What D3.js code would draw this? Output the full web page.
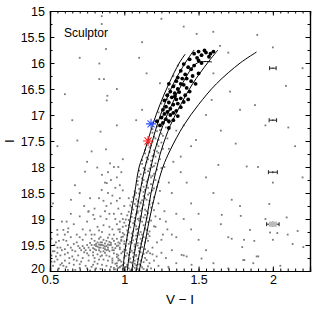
<!DOCTYPE html>
<html>
<head>
<meta charset="utf-8">
<script src="https://cdn.jsdelivr.net/npm/d3@7"></script>
<style>
  body { margin: 0; background: #fff; }
  svg { display: block; font-family: "Liberation Sans", Arial, sans-serif; }
</style>
</head>
<body>
<svg id="chart" width="327" height="312"></svg>
<script>
// ---- data (V-I, I) ----
const xTicks = [0.5, 1, 1.5, 2];
const yTicks = [15, 15.5, 16, 16.5, 17, 17.5, 18, 18.5, 19, 19.5, 20];

// sparse foreground / field stars
const fieldStars = [
  [0.848,15.10],[0.848,15.25],[0.877,15.73],[0.832,16.01],[0.832,16.31],[0.863,16.31],
  [0.886,16.63],[0.882,16.72],[0.684,17.49],[0.84,17.32],[0.877,17.66],[0.904,17.93],
  [0.818,18.01],[0.736,18.09],[0.668,18.35],[0.641,18.63],[0.848,18.44],[0.882,18.31],
  [0.758,18.86],[0.791,18.92],[0.612,19.05],[0.549,19.21],[0.59,19.21],[0.623,19.18],
  [1.723,18.63],[1.779,18.75],[1.976,18.71],[1.656,18.92],[1.784,18.94],[2.093,18.97],
  [1.846,19.21],[1.981,19.26],[2.03,19.27],[2.167,19.23],[1.723,19.38],[1.806,19.40],
  [1.875,19.42],[1.794,19.54],[2.133,19.48],[2.205,19.54],[1.902,19.72],[1.808,19.79],
  [1.868,19.85],[1.173,19.66],[1.218,19.72],[1.386,19.69],[1.42,19.72],[1.52,19.76],
  [1.453,19.88],[1.297,19.92],[1.801,19.79],[1.891,19.72],[1.895,15.46],[2.088,16.44],
  [1.88,16.81],[2.104,17.24],[1.599,15.4],[1.487,15.44],[1.644,15.67],[1.24,16.39],
  [1.712,16.55],[1.588,16.71],[1.779,16.9],[1.483,17.48],[1.633,17.96],[1.824,17.99],
  [1.12,15.6],[1.25,15.15],[1.55,18.2],[1.45,18.7],[1.5,19.4],[1.65,19.1],[1.4,19.7],
  [1.6,19.85],[1.35,18.9],[1.42,18.3],[1.38,17.8],[0.55,17.6],[0.52,18.7],[0.75,17.9],
  [0.95,17.2],[1.15,16.2],[1.12,16.9],[1.08,17.1],[1.4,17.2],[2.0,19.4],[1.7,19.35],
  [1.55,17.0],[1.65,17.3],[1.75,17.55],[1.95,17.2],[2.15,17.6],[2.2,18.2],[2.0,18.3],
  [1.9,18.0],[1.6,18.5],[1.5,18.9],[1.45,19.2],[1.55,19.6],[1.7,19.95],[2.05,19.9],
  [2.1,19.3],[1.95,19.0],[1.35,19.35],[1.4,19.0],[1.32,18.5],[1.38,18.1],[1.45,17.6],
  [1.3,17.65],[1.35,17.3],[1.6,16.2],[1.7,15.8],[2.0,15.7],[2.2,16.1],[1.4,15.3],
  [1.1,15.9],[0.95,16.5],[0.7,15.9],[0.6,16.6],[0.65,17.1],[0.78,17.7],[1.25,19.4],
  [1.28,19.05],[1.32,19.3],[1.23,18.7],[1.3,18.3],[1.27,18.0],[1.33,17.9]
];

// red giant branch
const rgbStars = [
  [0.93,19.97],[0.97,19.93],[1.0,19.98],[1.03,19.95],[1.06,19.91],[1.09,19.96],[1.12,19.93],[1.15,19.99],
  [0.95,19.9],[1.01,19.92],[1.04,19.99],[1.08,19.98],[1.18,19.95],[0.99,19.96],[1.11,19.9],
  [0.94,19.86],[0.98,19.82],[1.02,19.88],[1.05,19.84],[1.07,19.8],[1.1,19.87],[1.13,19.83],[0.96,19.76],
  [1.0,19.74],[1.03,19.79],[1.06,19.73],[1.09,19.77],[1.14,19.75],[1.17,19.85],[0.92,19.8],[1.01,19.71],
  [1.04,19.83],[1.08,19.89],[0.99,19.88],[1.12,19.72],
  [0.95,19.68],[0.99,19.63],[1.02,19.66],[1.05,19.61],[1.08,19.69],[1.11,19.64],[1.14,19.58],[0.97,19.55],
  [1.01,19.52],[1.04,19.57],[1.07,19.53],[1.1,19.56],[1.13,19.67],[1.16,19.62],[1.03,19.69],[1.06,19.65],
  [0.93,19.6],[1.19,19.55],[1.09,19.51],[1.0,19.59],
  [0.97,19.47],[1.0,19.43],[1.03,19.48],[1.06,19.41],[1.09,19.46],[1.12,19.42],[1.15,19.37],[0.99,19.34],
  [1.02,19.31],[1.05,19.36],[1.08,19.32],[1.11,19.38],[1.14,19.45],[1.17,19.33],[1.04,19.44],[1.07,19.49],
  [0.95,19.38],[1.1,19.3],
  [0.99,19.27],[1.02,19.22],[1.05,19.28],[1.08,19.2],[1.11,19.25],[1.14,19.18],[1.17,19.24],[1.01,19.13],
  [1.04,19.16],[1.07,19.11],[1.1,19.15],[1.13,19.12],[1.16,19.29],[1.06,19.24],[1.09,19.19],[0.97,19.2],[1.2,19.14],
  [1.0,19.07],[1.03,19.02],[1.06,19.08],[1.09,19.0],[1.12,19.05],[1.15,18.98],[1.18,19.03],[1.02,18.93],
  [1.05,18.96],[1.08,18.91],[1.11,18.95],[1.14,18.92],[1.07,19.04],[1.1,18.99],[1.21,18.95],
  [1.03,18.86],[1.06,18.82],[1.09,18.88],[1.12,18.8],[1.15,18.85],[1.18,18.78],[1.04,18.74],[1.07,18.71],
  [1.1,18.76],[1.13,18.73],[1.16,18.89],[1.2,18.83],[1.11,18.84],
  [1.05,18.67],[1.08,18.62],[1.11,18.68],[1.14,18.6],[1.17,18.65],[1.2,18.58],[1.07,18.54],[1.1,18.51],
  [1.13,18.56],[1.16,18.53],[1.19,18.69],[1.12,18.64],[1.03,18.6],
  [1.07,18.47],[1.1,18.42],[1.13,18.48],[1.16,18.4],[1.19,18.45],[1.22,18.38],[1.09,18.34],[1.12,18.31],
  [1.15,18.36],[1.18,18.33],[1.14,18.44],[1.24,18.46],
  [1.09,18.27],[1.12,18.22],[1.15,18.28],[1.18,18.2],[1.21,18.25],[1.11,18.14],[1.14,18.11],[1.17,18.16],
  [1.2,18.13],[1.23,18.29],[1.16,18.24],
  [1.1,18.07],[1.13,18.02],[1.16,18.08],[1.19,18.0],[1.22,18.05],[1.12,17.94],[1.15,17.91],[1.18,17.96],
  [1.21,17.93],[1.25,18.02],
  [1.12,17.87],[1.15,17.82],[1.18,17.88],[1.21,17.8],[1.24,17.85],[1.14,17.74],[1.17,17.71],[1.2,17.76],[1.23,17.73],
  [1.14,17.67],[1.17,17.62],[1.2,17.68],[1.23,17.6],[1.26,17.65],[1.16,17.54],[1.19,17.51],[1.22,17.56],[1.25,17.53],
  [1.17,17.47],[1.2,17.42],[1.23,17.48],[1.26,17.4],[1.19,17.34],[1.22,17.31],[1.25,17.36],[1.29,17.45],
  [1.19,17.27],[1.22,17.22],[1.25,17.18],[1.28,17.24],[1.21,17.12],[1.24,17.05],[1.27,17.09],[1.3,17.15],
  [1.23,16.95],[1.27,16.88],[1.3,16.92],[1.25,16.78],[1.29,16.7],[1.33,16.82],[1.28,16.62],
  [1.3,16.5],[1.34,16.42],[1.33,16.25],[1.38,16.15],[1.36,16.05],
  [1.2,19.8],[1.23,19.9],[1.25,19.65],[1.22,19.45],[1.28,19.75],[1.26,19.3],[1.3,19.95],[1.21,19.15],
  [1.24,19.0],[1.27,18.85],[1.32,19.6],[1.35,19.85],[1.19,19.68],[1.29,19.2],
  [0.96,19.94],[0.98,19.9],[1.02,19.91],[1.05,19.97],[1.07,19.94],[1.1,19.99],[1.13,19.96],[1.16,19.91],
  [0.97,19.79],[1.0,19.85],[1.04,19.76],[1.07,19.86],[1.11,19.8],[1.15,19.79],[0.95,19.73],[1.08,19.71],
  [0.98,19.66],[1.01,19.6],[1.04,19.64],[1.07,19.59],[1.1,19.62],[1.12,19.54],[1.15,19.65],[0.96,19.51],
  [1.0,19.48],[1.02,19.4],[1.05,19.46],[1.08,19.39],[1.11,19.47],[1.13,19.35],[1.16,19.42],[0.98,19.42],
  [1.0,19.3],[1.03,19.26],[1.06,19.32],[1.09,19.27],[1.12,19.3],[1.15,19.21],[1.03,19.12],[1.08,19.14],
  [1.01,19.01],[1.04,19.05],[1.07,18.98],[1.1,19.03],[1.13,18.97],[1.16,19.06],[1.05,18.89],[1.09,18.85],
  [1.05,18.78],[1.08,18.75],[1.11,18.7],[1.14,18.82],[1.17,18.72],[1.06,18.58],[1.09,18.66],[1.15,18.63],
  [1.08,18.5],[1.11,18.45],[1.17,18.5],[1.13,18.38],[1.2,18.41],[1.1,18.19],[1.13,18.25],[1.19,18.17],
  [1.14,18.05],[1.17,18.03],[1.2,17.98],[1.16,17.85],[1.19,17.79],[1.22,17.7],[1.18,17.58],[1.21,17.45],
  [1.24,17.29],[1.26,17.02],[1.29,16.85]
];

// horizontal branch, red clump and faint blue stars
const hbStars = [
  [0.76,19.55],[0.78,19.5],[0.8,19.58],[0.81,19.48],[0.82,19.53],[0.83,19.6],[0.84,19.45],[0.85,19.5],
  [0.86,19.56],[0.87,19.47],[0.88,19.52],[0.89,19.59],[0.9,19.44],[0.91,19.5],[0.92,19.55],[0.93,19.42],
  [0.94,19.48],[0.8,19.42],[0.83,19.38],[0.86,19.4],[0.89,19.36],[0.84,19.63],[0.87,19.65],[0.9,19.62],
  [0.79,19.64],[0.77,19.46],[0.74,19.6],[0.82,19.68],[0.85,19.7],[0.95,19.52],[0.96,19.45],[0.92,19.38],
  [0.88,19.42],[0.81,19.52],[0.86,19.51],[0.84,19.55],[0.87,19.58],[0.91,19.46],[0.83,19.49],[0.89,19.49],
  [0.72,19.52],[0.75,19.66],[0.97,19.58],[0.93,19.66],[0.78,19.38],[0.98,19.4],
  [0.51,19.7],[0.53,19.62],[0.55,19.78],[0.57,19.55],[0.58,19.85],[0.6,19.68],[0.62,19.5],[0.63,19.75],
  [0.65,19.6],[0.66,19.88],[0.68,19.45],[0.69,19.7],[0.7,19.56],[0.71,19.82],[0.73,19.64],[0.52,19.9],
  [0.54,19.45],[0.56,19.95],[0.59,19.4],[0.61,19.92],[0.64,19.35],[0.67,19.98],[0.72,19.4],[0.74,19.9],
  [0.5,19.55],[0.55,19.65],[0.6,19.8],[0.65,19.72],[0.7,19.94],[0.53,19.82],[0.58,19.6],
  [0.76,19.8],[0.78,19.92],[0.8,19.75],[0.82,19.86],[0.84,19.96],[0.86,19.78],[0.88,19.9],[0.9,19.72],
  [0.92,19.84],[0.94,19.97],[0.96,19.7],[0.79,19.7],[0.83,19.78],[0.87,19.98],[0.91,19.92],[0.77,19.99],
  [0.95,19.85],[0.89,19.8],[0.81,19.95],[0.85,19.88],
  [0.9,19.3],[0.92,19.2],[0.95,19.1],[0.88,19.0],[0.85,19.25],[0.93,18.9],[0.96,18.8],[0.91,18.7],
  [0.97,18.6],[0.89,18.5],[0.94,18.4],[0.82,19.15],[0.78,19.3],[0.75,19.05],[0.72,19.2],[0.8,18.8],
  [0.86,18.65],[0.98,19.35],[0.99,19.0],[0.84,19.35],[0.87,18.3],[0.95,18.2],[0.99,18.45],[0.7,18.95],
  [0.77,18.6],[0.68,19.3],[0.62,19.25],[0.66,19.1],[0.98,18.1],[0.93,18.0],[1.0,18.75],[0.97,19.25],
  [0.79,19.56],[0.81,19.6],[0.83,19.55],[0.85,19.45],[0.87,19.53],[0.89,19.55],[0.9,19.5],[0.84,19.5],
  [0.86,19.62],[0.82,19.45],[0.88,19.6],[0.8,19.5],[0.92,19.6],[0.94,19.56],[0.77,19.6],[0.75,19.5],
  [0.73,19.56],[0.71,19.6],[0.69,19.52],[0.67,19.62],[0.64,19.55],[0.62,19.65],[0.6,19.58],[0.57,19.7],
  [0.55,19.55],[0.52,19.62],[0.54,19.72],[0.59,19.9],[0.63,19.85],[0.68,19.8],[0.72,19.75],[0.76,19.7],
  [0.8,19.82],[0.84,19.72],[0.88,19.7],[0.92,19.76],[0.96,19.8],[0.97,19.92],[0.93,19.94],[0.79,19.88],
  [0.75,19.95],[0.7,19.87],[0.66,19.78],[0.62,19.98],[0.57,19.88],[0.51,19.82],[0.5,19.95],[0.53,19.5],
  [0.56,19.42],[0.61,19.42],[0.66,19.48],[0.7,19.35],[0.74,19.3],[0.77,19.22],[0.8,19.3],[0.83,19.22],
  [0.86,19.12],[0.9,19.15],[0.93,19.3],[0.96,19.2],[0.94,19.0],[0.9,18.9],[0.87,18.85],[0.84,18.95],
  [0.8,19.0],[0.76,18.85],[0.73,18.75],[0.83,18.6],[0.88,18.75],[0.92,18.55],[0.95,18.65],[0.97,18.35],
  [0.91,18.25],[0.85,18.15],[0.89,18.1],[0.96,18.0],[0.99,17.85],[0.7,18.5],[0.64,18.9],[0.58,19.05],
  [0.6,19.3],[0.55,19.3],[0.51,19.38],[0.98,18.9],[0.97,19.05],[0.99,19.15]
];

// spectroscopic targets (black dots)
const targets = [
  [1.47,15.82],[1.5,15.78],[1.52,15.85],[1.55,15.8],[1.57,15.88],[1.49,15.9],[1.54,15.76],[1.44,15.93],
  [1.4,16.02],[1.43,16.08],[1.38,16.15],[1.45,16.12],[1.41,16.22],[1.36,16.28],[1.47,16.05],[1.39,16.3],
  [1.35,16.35],[1.38,16.4],[1.33,16.45],[1.36,16.5],[1.4,16.42],[1.31,16.55],[1.34,16.58],[1.42,16.48],
  [1.37,16.56],[1.3,16.4],
  [1.29,16.62],[1.32,16.66],[1.35,16.7],[1.27,16.72],[1.3,16.76],[1.33,16.8],[1.36,16.78],[1.28,16.84],
  [1.31,16.88],[1.34,16.64],[1.26,16.9],[1.38,16.68],
  [1.29,16.94],[1.27,16.98],[1.31,17.0],[1.25,17.05],[1.28,17.08],[1.3,17.12],[1.33,16.96],[1.26,17.15],
  [1.42,16.3],[1.45,16.35],[1.44,16.55],[1.41,16.62],[1.4,16.75],[1.38,16.85],[1.35,16.92],[1.33,17.1],
  [1.3,17.25],[1.5,16.2],[1.48,16.4],[1.52,16.0],[1.58,15.82],[1.6,15.78],[1.5,15.95],[1.46,16.25],
  [1.43,16.7],[1.36,17.02],[1.24,17.2],[1.22,17.12]
];

// isochrones, V-I at each I
const isoI = [20, 19.6, 19.0, 18.5, 18.0, 17.67, 17.2, 16.8, 16.4, 16.0];
const iso1 = [0.99, 1.005, 1.04, 1.07, 1.10, 1.14, 1.19, 1.24, 1.30, 1.37];
const iso2 = [1.02, 1.038, 1.075, 1.105, 1.14, 1.173, 1.22, 1.27, 1.33, 1.41];
const iso3 = [1.05, 1.072, 1.11, 1.14, 1.18, 1.207, 1.26, 1.32, 1.39, 1.49];
const iso4 = [1.08, 1.106, 1.15, 1.18, 1.22, 1.25, 1.31, 1.38, 1.46, 1.56];
const iso5 = [1.10, 1.13, 1.17, 1.21, 1.26, 1.31, 1.40, 1.50, 1.62, 1.78];
const isoTipI  = [15.83, 15.75, 15.98, 15.75, 15.79];
const isoTipVI = [1.41, 1.47, 1.59, 1.63, 1.89];

// highlighted stars
const blueStar = [1.18, 17.17];
const redStar  = [1.16, 17.5];

// error bars
const errVI = 2.0;
const errI     = [16.1, 17.1, 18.1, 19.1];
const errVIerr = [0.022, 0.025, 0.03, 0.042];
const errIerr  = [0.01, 0.015, 0.02, 0.05];

// ---- drawing ----
const svg = d3.select("#chart");
const L = 50, R = 310, T = 11, B = 271;

const x = d3.scaleLinear().domain([0.5, 2.25]).range([L, R]);
const y = d3.scaleLinear().domain([15, 20]).range([T, B]);

svg.append("clipPath").attr("id", "clip")
  .append("rect").attr("x", L).attr("y", T).attr("width", R - L).attr("height", B - T);

const plot = svg.append("g").attr("clip-path", "url(#clip)");

// gray photometry
const gray = fieldStars.concat(rgbStars, hbStars);
plot.append("g").selectAll("rect")
  .data(gray)
  .join("rect")
    .attr("x", d => x(d[0]) - 0.9)
    .attr("y", d => y(d[1]) - 0.9)
    .attr("width", 1.8)
    .attr("height", 1.8)
    .attr("fill", "#7a7a7a");

// isochrones
const isoList = [iso1, iso2, iso3, iso4, iso5];
const line = d3.line().x(d => x(d[0])).y(d => y(d[1])).curve(d3.curveCatmullRom);
isoList.forEach((iso, k) => {
  const pts = iso.map((v, i) => [v, isoI[i]]);
  pts.push([isoTipVI[k], isoTipI[k]]);
  plot.append("path")
    .attr("d", line(pts))
    .attr("fill", "none")
    .attr("stroke", "#000")
    .attr("stroke-width", 1);
});

// targets
plot.append("g").selectAll("circle")
  .data(targets)
  .join("circle")
    .attr("cx", d => x(d[0]))
    .attr("cy", d => y(d[1]))
    .attr("r", 1.9)
    .attr("fill", "#000");

// asterisks
function star(p, color) {
  const cx = x(p[0]), cy = y(p[1]), r = 5;
  let d = "";
  for (let a = 0; a < 4; a++) {
    const ang = a * Math.PI / 4;
    const dx = r * Math.cos(ang), dy = r * Math.sin(ang);
    d += `M${cx - dx},${cy - dy}L${cx + dx},${cy + dy}`;
  }
  svg.append("path").attr("d", d).attr("stroke", color).attr("stroke-width", 1.1);
}
star(blueStar, "#3050ff");
star(redStar, "#ff2020");

// error bars
errI.forEach((v, i) => {
  const cy = y(v), x0 = x(errVI - errVIerr[i]), x1 = x(errVI + errVIerr[i]);
  const g = svg.append("g").attr("stroke", "#222").attr("stroke-width", 1);
  if (i === 3) {
    svg.append("rect")
      .attr("x", x(errVI) - 4).attr("y", y(v - errIerr[i]))
      .attr("width", 8).attr("height", y(v + errIerr[i]) - y(v - errIerr[i]))
      .attr("fill", "#bbb");
  }
  g.append("line").attr("x1", x0).attr("x2", x1).attr("y1", cy).attr("y2", cy);
  g.append("line").attr("x1", x0).attr("x2", x0).attr("y1", cy - 2).attr("y2", cy + 2);
  g.append("line").attr("x1", x1).attr("x2", x1).attr("y1", cy - 2).attr("y2", cy + 2);
  g.append("line").attr("x1", x(errVI)).attr("x2", x(errVI))
    .attr("y1", y(v - errIerr[i])).attr("y2", y(v + errIerr[i]));
});

// axes (ticks inside, all four sides)
const minorX = d3.range(0.5, 2.2501, 0.05);
const minorY = d3.range(15, 20.001, 0.25);
function ticks(axis, vals, size) {
  return axis.tickValues(vals).tickSize(size).tickFormat("");
}
const fmt = d => d3.format("")(+d.toFixed(2));

svg.append("g").attr("transform", `translate(0,${B})`)
  .call(ticks(d3.axisBottom(x), minorX, -2.5));
svg.append("g").attr("transform", `translate(0,${T})`)
  .call(ticks(d3.axisTop(x), minorX, -2.5));
svg.append("g").attr("transform", `translate(${L},0)`)
  .call(ticks(d3.axisLeft(y), minorY, -2.5));
svg.append("g").attr("transform", `translate(${R},0)`)
  .call(ticks(d3.axisRight(y), minorY, -2.5));

svg.append("g").attr("transform", `translate(0,${B})`)
  .call(d3.axisBottom(x).tickValues(xTicks).tickSize(-4.5).tickPadding(4).tickFormat(fmt));
svg.append("g").attr("transform", `translate(0,${T})`)
  .call(d3.axisTop(x).tickValues(xTicks).tickSize(-4.5).tickFormat(""));
const yAxis = svg.append("g").attr("transform", `translate(${L},0)`)
  .call(d3.axisLeft(y).tickValues(yTicks).tickSize(-4.5).tickPadding(5).tickFormat(fmt));
svg.append("g").attr("transform", `translate(${R},0)`)
  .call(d3.axisRight(y).tickValues(yTicks).tickSize(-4.5).tickFormat(""));

svg.selectAll(".domain").attr("stroke", "#000").attr("stroke-width", 1.2);
svg.selectAll(".tick line").attr("stroke", "#000");
svg.selectAll(".tick text")
  .attr("font-family", "Liberation Sans, Arial, sans-serif")
  .attr("font-size", 12.5)
  .attr("fill", "#000");
// lowest y label sits just above the 0.5 label
yAxis.selectAll(".tick text").filter(d => d === 20).attr("dy", "0.1em");

// labels
svg.append("text").attr("x", (L + R) / 2).attr("y", 304)
  .attr("text-anchor", "middle").attr("font-size", 13.5).text("V \u2212 I");
svg.append("text")
  .attr("transform", `translate(14,${(T + B) / 2}) rotate(-90)`)
  .attr("text-anchor", "middle").attr("font-size", 13.5).text("I");
svg.append("text").attr("x", 64).attr("y", 37)
  .attr("font-size", 12).text("Sculptor");
</script>
</body>
</html>
